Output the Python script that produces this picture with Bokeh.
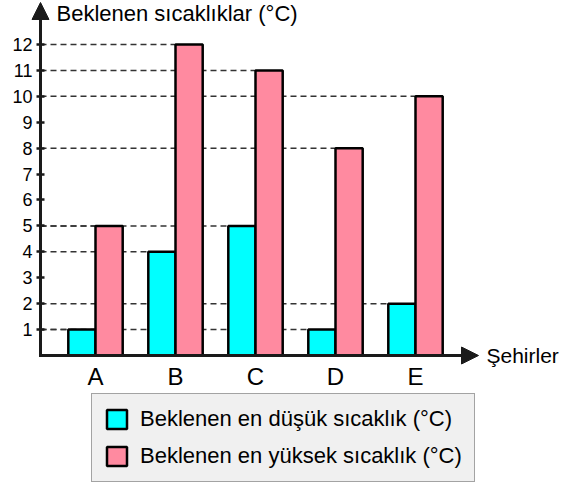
from bokeh.plotting import figure
from bokeh.models import (Range1d, FixedTicker, Arrow, NormalHead, Label, Legend,
                          LegendItem)
from bokeh.embed import file_html
from bokeh.resources import INLINE

# ---- data ----
cities = ["A", "B", "C", "D", "E"]
low = [1, 4, 5, 1, 2]
high = [5, 12, 11, 8, 10]
y_ticks = [1, 2, 3, 4, 5, 6, 7, 8, 9, 10, 11, 12]
title_text = "Beklenen sıcaklıklar (°C)"
x_title = "Şehirler"
low_label = "Beklenen en düşük sıcaklık (°C)"
high_label = "Beklenen en yüksek sıcaklık (°C)"

# ---- layout ----
FONT = "Liberation Sans"
INK = "#1a1a1a"
CYAN = "#00FFFF"
PINK = "#FF8AA0"
pos = [i + 1 for i in range(len(cities))]
W = 0.34
xa0 = 0.3125          # where the vertical axis stands
x_start, x_end = -0.1875, 6.8125
y_bottom, y_top = -4.938, 13.696
x_tip = 5.7875
y_tip = 13.619

p = figure(width=560, height=483,
           x_range=Range1d(x_start, x_end), y_range=Range1d(y_bottom, y_top),
           output_backend="svg", toolbar_location=None,
           min_border_left=0, min_border_right=0,
           min_border_top=0, min_border_bottom=0)
p.outline_line_color = None
p.xgrid.visible = False
p.ygrid.visible = False
p.background_fill_color = "white"
p.border_fill_color = "white"

low_left = [c - W for c in pos]
high_left = [c for c in pos]

# dashed guide lines from the axis to each bar
p.segment(x0=[xa0] * len(low), y0=low, x1=low_left, y1=low,
          line_dash="6 4", line_color="#333333", line_width=1.5)
p.segment(x0=[xa0] * len(high), y0=high, x1=high_left, y1=high,
          line_dash="6 4", line_color="#333333", line_width=1.5)

r_low = p.vbar(x=[c - W / 2 for c in pos], top=low, bottom=0, width=W,
               fill_color=CYAN, line_color="black", line_width=2.5)
r_high = p.vbar(x=[c + W / 2 for c in pos], top=high, bottom=0, width=W,
                fill_color=PINK, line_color="black", line_width=2.5)

# axes
ya = p.yaxis[0]
ya.fixed_location = xa0
ya.ticker = FixedTicker(ticks=y_ticks)
ya.axis_line_color = None
ya.major_tick_in = 4
ya.major_tick_out = 4
ya.major_tick_line_width = 2.5
ya.major_tick_line_color = INK
ya.minor_tick_line_color = None
ya.major_label_text_font = FONT
ya.major_label_text_font_size = "18px"
ya.major_label_text_color = "black"
ya.major_label_standoff = 4

xa = p.xaxis[0]
xa.fixed_location = 0
xa.ticker = FixedTicker(ticks=pos)
xa.major_label_overrides = {c: n for c, n in zip(pos, cities)}
xa.axis_line_color = None
xa.major_tick_line_color = None
xa.minor_tick_line_color = None
xa.major_tick_out = 0
xa.major_tick_in = 0
xa.major_label_text_font = FONT
xa.major_label_text_font_size = "24px"
xa.major_label_text_color = "black"
xa.major_label_standoff = 7

# axis arrows
p.add_layout(Arrow(end=NormalHead(size=17, fill_color=INK, line_color=INK, line_width=1),
                   x_start=xa0, y_start=0, x_end=x_tip, y_end=0,
                   line_width=3, line_color=INK, line_cap="square"))
p.add_layout(Arrow(end=NormalHead(size=17, fill_color=INK, line_color=INK, line_width=1),
                   x_start=xa0, y_start=0, x_end=xa0, y_end=y_tip,
                   line_width=3, line_color=INK))

p.add_layout(Label(x=0.5125, y=y_top, text=title_text, text_baseline="top",
                   text_align="left", text_font=FONT, text_font_size="22px",
                   text_color="black"))
p.add_layout(Label(x=5.8875, y=0, text=x_title, text_baseline="middle",
                   text_align="left", text_font=FONT, text_font_size="21px",
                   text_color="black"))

legend = Legend(items=[LegendItem(label=low_label, renderers=[r_low]),
                       LegendItem(label=high_label, renderers=[r_high])],
                location=(91, 1), orientation="vertical",
                padding=12, spacing=11, margin=0,
                glyph_width=25, glyph_height=24, label_height=24,
                label_standoff=11, label_text_font=FONT,
                label_text_font_size="22px", label_text_color="black",
                background_fill_color="#f0f0f0", background_fill_alpha=1,
                border_line_color="#555555", border_line_width=1.5)
p.add_layout(legend)

open("out.html", "w").write(file_html(p, INLINE))
